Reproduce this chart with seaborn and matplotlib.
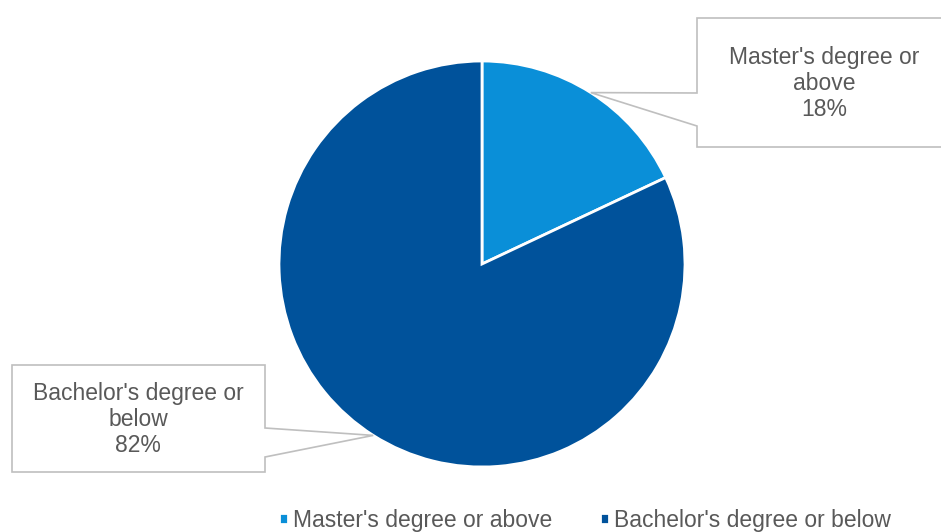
import numpy as np
import matplotlib
matplotlib.use("Agg")
import matplotlib.pyplot as plt
from matplotlib.patches import Polygon
import seaborn as sns

# Datos del gráfico
categorias = ["Master's degree or above", "Bachelor's degree or below"]
porcentajes = [18, 82]
etiquetas = ["Master's degree or\nabove\n18%", "Bachelor's degree or\nbelow\n82%"]
colores = ["#0a8fd8", "#00529b"]

sns.set_theme(style="white")
plt.rcParams['font.family'] = ['Liberation Sans', 'DejaVu Sans']

W, H = 941, 532
fig = plt.figure(figsize=(W / 100, H / 100), dpi=100)
ax = fig.add_axes([0, 0, 1, 1])

centro = (482, H - 264)
radio = 203
wedges, _ = ax.pie(porcentajes, colors=colores, startangle=90, counterclock=False,
                   center=centro, radius=radio, frame=True,
                   wedgeprops=dict(edgecolor='white', linewidth=2))
ax.set_xlim(0, W)
ax.set_ylim(0, H)
ax.axis('off')

# Cajas de llamada (x0, x1, y0, y1, lado del puntero, y de anclaje del puntero)
cajas = [
    dict(x0=697, x1=948, y0=18, y1=147, lado='left', a=(93, 126), tx=824),
    dict(x0=12, x1=265, y0=365, y1=472, lado='right', a=(428, 457), tx=138),
]

for w, caja, texto in zip(wedges, cajas, etiquetas):
    ang = np.deg2rad((w.theta1 + w.theta2) / 2)
    tip = (w.center[0] + w.r * np.cos(ang), w.center[1] + w.r * np.sin(ang))
    x0, x1 = caja['x0'], caja['x1']
    y0, y1 = H - caja['y0'], H - caja['y1']
    a0, a1 = H - caja['a'][0], H - caja['a'][1]
    if caja['lado'] == 'left':
        pts = [(x0, y0), (x1, y0), (x1, y1), (x0, y1), (x0, a1), tip, (x0, a0)]
    else:
        pts = [(x0, y0), (x1, y0), (x1, a0), tip, (x1, a1), (x1, y1), (x0, y1)]
    ax.add_patch(Polygon(pts, closed=True, facecolor='white', edgecolor='#bfbfbf',
                         linewidth=1.2, zorder=3))
    ax.text(caja['tx'], (y0 + y1) / 2 - 1, texto, ha='center', va='center',
            fontsize=16.5, color='#595959', linespacing=1.18, zorder=4)

fig.legend(wedges, categorias, loc='center', bbox_to_anchor=(585 / W, 1 - 520 / H),
           ncol=2, frameon=False, fontsize=16.5, handlelength=0.4, handleheight=0.4,
           handletextpad=0.2, columnspacing=2.1, labelcolor='#595959')

fig.savefig("out.png", dpi=100)
